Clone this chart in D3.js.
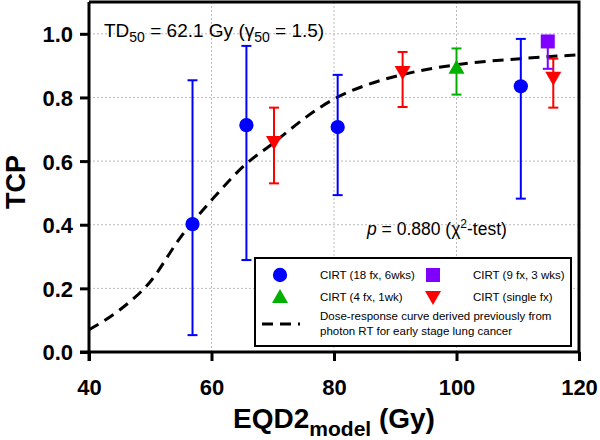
<!DOCTYPE html>
<html><head><meta charset="utf-8">
<script src="https://cdn.jsdelivr.net/npm/d3@7"></script>
<style>body{margin:0;background:#fff}svg{display:block;font-family:"Liberation Sans",Arial,sans-serif}</style>
</head><body><svg id="c" width="600" height="440"></svg>
<script>
// Data
const xTicks = [40, 60, 80, 100, 120];
const yTicks = [0.0, 0.2, 0.4, 0.6, 0.8, 1.0];
const seriesNames = ["CIRT (18 fx, 6wks)", "CIRT (9 fx, 3 wks)", "CIRT (4 fx, 1wk)", "CIRT (single fx)"];
const cirt18Dose = [56.9, 65.7, 80.6, 110.5];
const cirt18TCP  = [0.402, 0.713, 0.707, 0.835];
const cirt18Lo   = [0.053, 0.289, 0.493, 0.482];
const cirt18Hi   = [0.854, 0.962, 0.871, 0.984];
const cirt9Dose = [114.9];
const cirt9TCP  = [0.976];
const cirt9Lo   = [0.890];
const cirt4Dose = [100.0];
const cirt4TCP  = [0.893];
const cirt4Lo   = [0.809];
const cirt4Hi   = [0.954];
const singleDose = [70.2, 91.2, 115.8];
const singleTCP  = [0.660, 0.880, 0.862];
const singleLo   = [0.530, 0.770, 0.768];
const singleHi   = [0.768, 0.943, 0.922];
const curveDose = [40, 45, 50, 55, 60, 65.7, 70, 75.5, 80, 85, 90.8, 100, 110.4, 120];
const curveTCP  = [0.070, 0.132, 0.221, 0.362, 0.477, 0.592, 0.655, 0.739, 0.795, 0.837, 0.870, 0.903, 0.922, 0.934];

const svg = d3.select("#c");
const x = d3.scaleLinear().domain([40, 120]).range([89, 579]);
const y = d3.scaleLinear().domain([0, 1.1]).range([352, 2]);

// grid
const grid = svg.append("g").attr("stroke", "#bbb").attr("stroke-width", 1).attr("stroke-dasharray", "2,2");
xTicks.slice(1, -1).forEach(t => grid.append("line").attr("x1", x(t)).attr("x2", x(t)).attr("y1", y(1.1)).attr("y2", y(0)));
yTicks.slice(1).forEach(t => grid.append("line").attr("x1", x(40)).attr("x2", x(120)).attr("y1", y(t)).attr("y2", y(t)));

// frame top/right
svg.append("path").attr("d", `M${x(40)},${y(1.1)}H${x(120)}V${y(0)}`).attr("fill", "none").attr("stroke", "#000").attr("stroke-width", 3);

// axes
const xAxis = svg.append("g").attr("transform", `translate(0,${y(0)})`)
  .call(d3.axisBottom(x).tickValues(xTicks).tickSize(9).tickFormat(d3.format("d")));
const yAxis = svg.append("g").attr("transform", `translate(${x(40)},0)`)
  .call(d3.axisLeft(y).tickValues(yTicks).tickSize(9).tickPadding(7).tickFormat(d3.format(".1f")));
[xAxis, yAxis].forEach(a => {
  a.select(".domain").attr("stroke-width", 3);
  a.selectAll(".tick line").attr("stroke-width", 3);
  a.selectAll(".tick text").attr("font-size", 22).attr("font-weight", "bold").attr("fill", "#000").attr("font-family", "Liberation Sans, Arial, sans-serif");
});
xAxis.selectAll(".tick text").attr("y", 43).attr("dy", 0);
yAxis.selectAll(".tick text").attr("dy", "0.36em");
xAxis.select(".domain").attr("d", `M${x(40)-9},0H${x(120)}`);
yAxis.select(".domain").attr("d", `M0,${y(1.1)}V${y(0)+9}`);

// curve
const line = d3.line().x((d, i) => x(curveDose[i])).y((d, i) => y(curveTCP[i])).curve(d3.curveMonotoneX);
svg.append("path").datum(curveDose).attr("d", line).attr("fill", "none").attr("stroke", "#000")
  .attr("stroke-width", 3).attr("stroke-dasharray", "11,7");

// error bars + markers
function errBars(dose, lo, hi, color) {
  const g = svg.append("g").attr("stroke", color).attr("stroke-width", 2);
  dose.forEach((d, i) => {
    g.append("line").attr("x1", x(d)).attr("x2", x(d)).attr("y1", y(lo[i])).attr("y2", y(hi[i]));
    g.append("line").attr("x1", x(d) - 5).attr("x2", x(d) + 5).attr("y1", y(lo[i])).attr("y2", y(lo[i]));
    g.append("line").attr("x1", x(d) - 5).attr("x2", x(d) + 5).attr("y1", y(hi[i])).attr("y2", y(hi[i]));
  });
}
const sym = (type, size) => d3.symbol().type(type).size(size)();
const downTri = "M-8,-6L8,-6L0,8Z";
const upTri = "M-8,6L8,6L0,-8Z";
const square = "M-7,-7H7V7H-7Z";
function markers(dose, tcp, color, path) {
  dose.forEach((d, i) => svg.append("path").attr("d", path).attr("fill", color)
    .attr("transform", `translate(${x(d)},${y(tcp[i])})`));
}
errBars(cirt18Dose, cirt18Lo, cirt18Hi, "#0000ff");
errBars(singleDose, singleLo, singleHi, "#ff0000");
errBars(cirt4Dose, cirt4Lo, cirt4Hi, "#00b000");
// purple: lower bar only
{
  const g = svg.append("g").attr("stroke", "#8000ff").attr("stroke-width", 2);
  cirt9Dose.forEach((d, i) => {
    g.append("line").attr("x1", x(d)).attr("x2", x(d)).attr("y1", y(cirt9Lo[i])).attr("y2", y(cirt9TCP[i]));
    g.append("line").attr("x1", x(d) - 5).attr("x2", x(d) + 5).attr("y1", y(cirt9Lo[i])).attr("y2", y(cirt9Lo[i]));
  });
}
markers(cirt18Dose, cirt18TCP, "#0000ff", sym(d3.symbolCircle, 160));
markers(cirt9Dose, cirt9TCP, "#8000ff", square);
markers(cirt4Dose, cirt4TCP, "#00b000", upTri);
markers(singleDose, singleTCP, "#ff0000", downTri);

// annotations
const t1 = svg.append("text").attr("x", 104).attr("y", 37).attr("font-size", 19).attr("fill", "#000");
t1.append("tspan").text("TD");
t1.append("tspan").text("50").attr("font-size", 14).attr("dy", 5);
t1.append("tspan").text(" = 62.1 Gy (γ").attr("dy", -5);
t1.append("tspan").text("50").attr("font-size", 14).attr("dy", 5);
t1.append("tspan").text(" = 1.5)").attr("dy", -5);

const t2 = svg.append("text").attr("x", 367).attr("y", 235).attr("font-size", 17.5).attr("fill", "#000");
t2.append("tspan").text("p").attr("font-style", "italic");
t2.append("tspan").text(" = 0.880 (χ");
t2.append("tspan").text("2").attr("font-size", 12).attr("dy", -7);
t2.append("tspan").text("-test)").attr("dy", 7);

// axis titles
svg.append("text").attr("transform", "translate(25,182) rotate(-90)").attr("text-anchor", "middle")
  .attr("font-size", 27).attr("font-weight", "bold").text("TCP");
const xt = svg.append("text").attr("x", 334).attr("y", 428).attr("text-anchor", "middle")
  .attr("font-size", 28).attr("font-weight", "bold");
xt.append("tspan").text("EQD2");
xt.append("tspan").text("model").attr("font-size", 21).attr("dy", 8);
xt.append("tspan").text(" (Gy)").attr("dy", -8);

// legend
const lg = svg.append("g");
lg.append("rect").attr("x", 255).attr("y", 258).attr("width", 316).attr("height", 88)
  .attr("fill", "#fff").attr("stroke", "#000").attr("stroke-width", 2);
const legItems = [
  {name: seriesNames[0], color: "#0000ff", path: sym(d3.symbolCircle, 160), lx: 280, ly: 275},
  {name: seriesNames[1], color: "#8000ff", path: square, lx: 433, ly: 275},
  {name: seriesNames[2], color: "#00b000", path: upTri, lx: 280, ly: 297},
  {name: seriesNames[3], color: "#ff0000", path: downTri, lx: 433, ly: 297}
];
legItems.forEach(it => {
  lg.append("path").attr("d", it.path).attr("fill", it.color).attr("transform", `translate(${it.lx},${it.ly})`);
  lg.append("text").attr("x", it.lx + 40).attr("y", it.ly + 4).attr("font-size", 11.5).text(it.name);
});
lg.append("line").attr("x1", 262).attr("x2", 300).attr("y1", 324).attr("y2", 324)
  .attr("stroke", "#000").attr("stroke-width", 3).attr("stroke-dasharray", "11,7");
lg.append("text").attr("x", 320).attr("y", 320).attr("font-size", 11.5).text("Dose-response curve derived previously from");
lg.append("text").attr("x", 320).attr("y", 335).attr("font-size", 11.5).text("photon RT for early stage lung cancer");
</script></body></html>
